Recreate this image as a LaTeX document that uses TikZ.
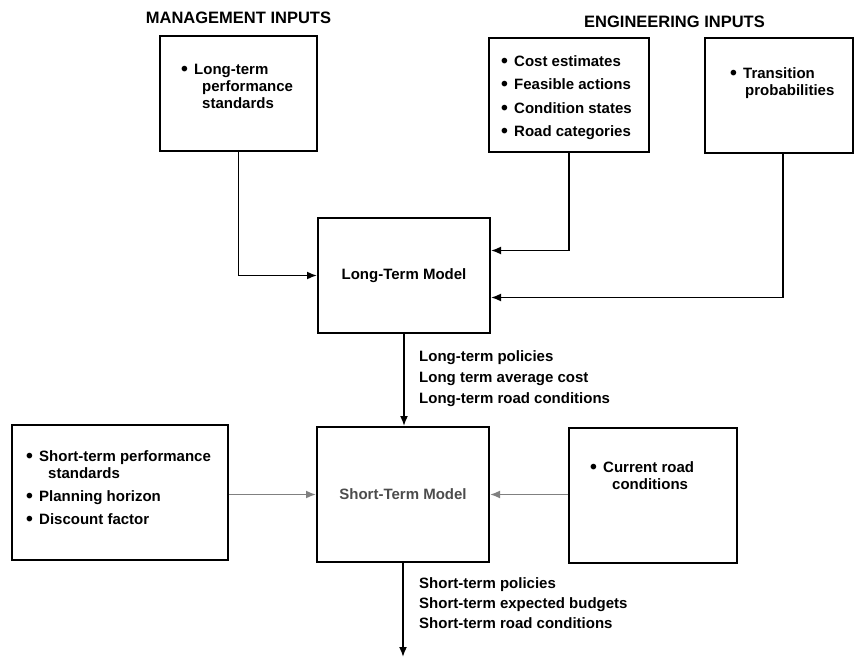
\documentclass[tikz,border=0pt]{standalone}
\usepackage{fontspec}
\setmainfont{Liberation Sans}
\usetikzlibrary{arrows.meta}

\newcommand{\itm}{\makebox[13pt][l]{\raisebox{-1pt}{\scalebox{1.3}{\textbullet}}}}

\begin{document}
\begin{tikzpicture}[
    x=1pt, y=-1pt,
    every node/.style={font=\fontsize{15}{17}\selectfont\bfseries},
    box/.style={draw, line width=2pt, inner sep=0pt},
    txt/.style={anchor=north west, align=left, inner sep=0pt},
    title/.style={font=\fontsize{16.5}{19}\selectfont\bfseries},
    arrowline/.style={line width=1.7pt, -{Latex[length=10pt,width=8pt]}},
    faint/.style={black!50}
    ]
    \useasboundingbox (0,0) rectangle (854,658);

    % inputs
    \node[title] (mgmt) at (238.5,18) {MANAGEMENT INPUTS};
    \node[title] (eng) at (674.5,22) {ENGINEERING INPUTS};

    \node[box, minimum width=157pt, minimum height=115pt] (ltperf) at (238.5,93.5) {};
    \node[txt] (ltperftxt) at (181,64) {\itm Long-term\\\hspace*{21pt}performance\\\hspace*{21pt}standards};

    \node[box, minimum width=160pt, minimum height=114pt] (cost) at (569,95) {};
    \node[txt] (costtxt) at (501,55) {\itm Cost estimates\\[6.5pt]\itm Feasible actions\\[6.5pt]\itm Condition states\\[6.5pt]\itm Road categories};

    \node[box, minimum width=148pt, minimum height=115pt] (trans) at (779,95.5) {};
    \node[txt] (transtxt) at (730,67) {\itm Transition\\\hspace*{15pt}probabilities};

    % models
    \node[box, minimum width=172pt, minimum height=115pt] (ltm) at (404,275.5) {Long-Term Model};
    \node[box, minimum width=172pt, minimum height=135pt, text=black!70] (stm) at (403,494.5) {Short-Term Model};

    \node[box, minimum width=216pt, minimum height=135pt] (stpar) at (120,492.5) {};
    \node[txt] (stpartxt) at (26,450) {\itm Short-term performance\\\hspace*{22pt}standards\\[6.5pt]\itm Planning horizon\\[6pt]\itm Discount factor};

    \node[box, minimum width=168pt, minimum height=135pt] (curr) at (653,495.5) {};
    \node[txt] (currtxt) at (590,461) {\itm Current road\\\hspace*{22pt}conditions};

    % connectors
    \draw[arrowline] (ltperf.south) |- (ltm.west);
    \draw[arrowline] (cost.south) |- ([yshift=25pt]ltm.east);
    \draw[arrowline] ([xshift=4pt]trans.south) |- ([yshift=-22pt]ltm.east);
    \draw[arrowline] (ltm.south) -- (ltm.south |- stm.north);
    \draw[arrowline, faint] (stpar.east |- stm.west) -- (stm.west);
    \draw[arrowline, faint] (curr.west |- stm.east) -- (stm.east);
    \coordinate (out) at (403,657);
    \draw[arrowline] (stm.south) -- (out);

    \node[txt] (ltout) at (419,350) {Long-term policies\\[4pt]Long term average cost\\[4pt]Long-term road conditions};
    \node[txt] (stout) at (419,577) {Short-term policies\\[3pt]Short-term expected budgets\\[3pt]Short-term road conditions};

\end{tikzpicture}
\end{document}
